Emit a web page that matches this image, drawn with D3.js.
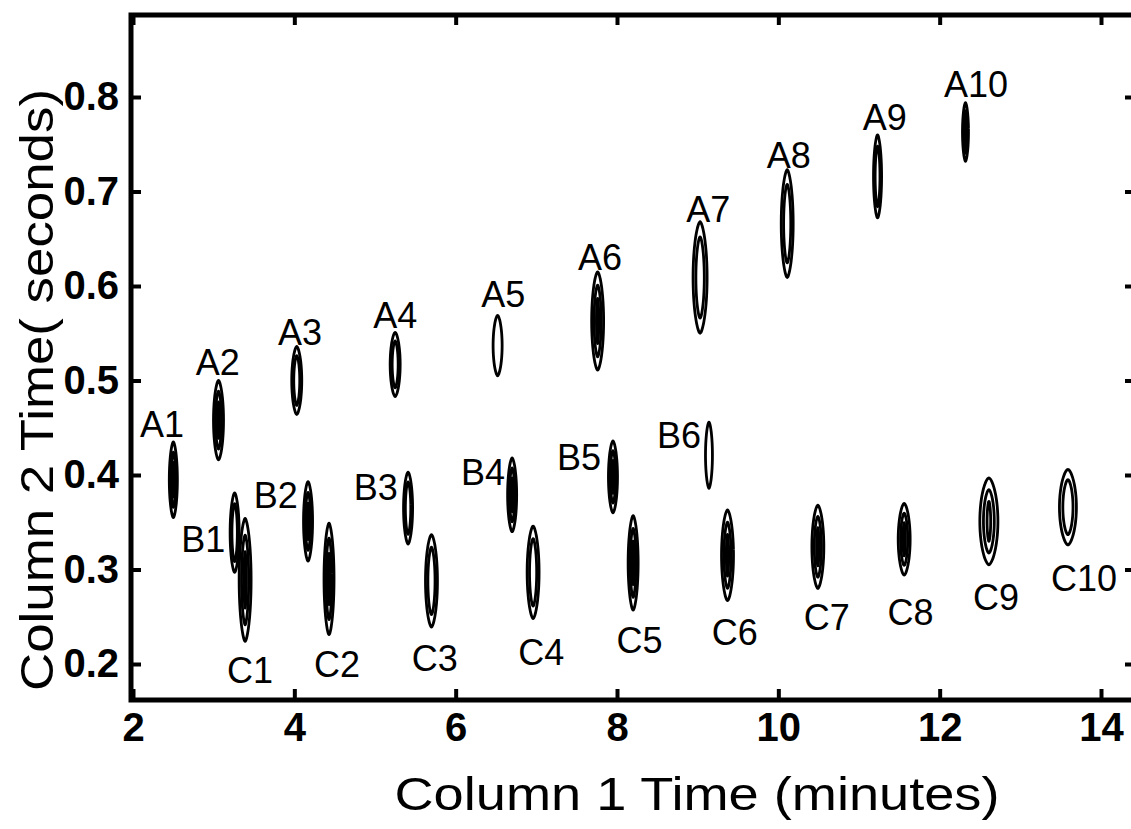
<!DOCTYPE html>
<html>
<head>
<meta charset="utf-8">
<script src="https://cdn.jsdelivr.net/npm/d3@7"></script>
<style>
  html, body { margin: 0; padding: 0; background: #fff; }
  svg { display: block; }
  text { font-family: "Liberation Sans", Arial, Helvetica, sans-serif; fill: #000; }
</style>
</head>
<body>
<svg id="chart" width="1131" height="829"></svg>
<script>
// ---- data ----
const peakNames = ["A1","A2","A3","A4","A5","A6","A7","A8","A9","A10",
                   "B1","B2","B3","B4","B5","B6",
                   "C1","C2","C3","C4","C5","C6","C7","C8","C9","C10"];
// column 1 retention time (minutes)
const peakX = [2.50,3.06,4.03,5.25,6.52,7.76,9.03,10.11,11.23,12.32,
               3.26,4.17,5.41,6.70,7.95,9.14,
               3.39,4.43,5.70,6.96,8.20,9.37,10.49,11.56,12.61,13.59];
// column 2 retention time (seconds)
const peakY = [0.395,0.458,0.500,0.517,0.537,0.563,0.609,0.666,0.716,0.763,
               0.339,0.351,0.365,0.379,0.398,0.421,
               0.289,0.290,0.288,0.297,0.307,0.315,0.324,0.332,0.351,0.366];
// half extent of outer contour along column 2 (seconds)
const peakHalfHeight = [0.040,0.042,0.036,0.034,0.032,0.052,0.059,0.057,0.044,0.031,
                        0.042,0.042,0.038,0.039,0.038,0.035,
                        0.065,0.059,0.049,0.049,0.050,0.048,0.044,0.038,0.046,0.040];
// half extent of outer contour along column 1 (minutes)
const peakHalfWidth = [0.050,0.062,0.062,0.062,0.056,0.074,0.087,0.074,0.050,0.037,
                       0.056,0.056,0.056,0.056,0.056,0.043,
                       0.074,0.062,0.074,0.074,0.062,0.074,0.074,0.074,0.112,0.105];
// number of contour levels drawn
const peakLevels = [3,3,2,2,1,3,2,2,2,3,
                    2,3,2,3,3,1,
                    3,3,2,2,3,3,3,3,3,2];
// label anchor (centre x in minutes, baseline y in seconds)
const labelX = [2.36,3.05,4.07,5.25,6.59,7.79,9.13,10.13,11.32,12.45,
                2.87,3.77,5.01,6.34,7.53,8.77,
                3.45,4.53,5.74,7.06,8.28,9.46,10.60,11.64,12.70,13.79];
const labelY = [0.440,0.506,0.538,0.556,0.578,0.617,0.668,0.725,0.765,0.800,
                0.319,0.365,0.374,0.389,0.405,0.429,
                0.180,0.186,0.193,0.199,0.212,0.220,0.236,0.241,0.257,0.277];
const xTicks = [2,4,6,8,10,12,14];
const yTicks = [0.2,0.3,0.4,0.5,0.6,0.7,0.8];
const xTitle = "Column 1 Time (minutes)";
const yTitle = "Column 2 Time( seconds)";

// ---- scales ----
const x = d3.scaleLinear().domain([2, 14]).range([133, 1101]);
const y = d3.scaleLinear().domain([0.2, 0.8]).range([664, 97]);
const frameLeft = 131, frameRight = 1135, frameTop = 15, frameBottom = 700;

const svg = d3.select("#chart");

// ---- peaks (contours) ----
const line = d3.line().curve(d3.curveCardinalClosed.tension(0.3));
const peaks = peakNames.map((n, i) => ({
  name: n, cx: peakX[i], cy: peakY[i], hh: peakHalfHeight[i], hw: peakHalfWidth[i],
  levels: peakLevels[i], lx: labelX[i], ly: labelY[i]
}));

const gPeaks = svg.append("g");
peaks.forEach(p => {
  for (let k = 0; k < p.levels; k++) {
    const fy = 1 - k * 0.27;
    const fx = 1 - k * 0.4;
    const pts = d3.range(48).map(j => {
      const t = j / 48 * 2 * Math.PI;
      const c = Math.cos(t), s = Math.sin(t);
      const cx = Math.sign(c) * Math.pow(Math.abs(c), 1.25);
      return [x(p.cx + p.hw * fx * cx), y(p.cy + p.hh * fy * s)];
    });
    gPeaks.append("path")
      .attr("d", line(pts))
      .attr("fill", "none")
      .attr("stroke", "#000")
      .attr("stroke-width", 2.8);
  }
});

// ---- peak labels ----
svg.append("g").selectAll("text").data(peaks).join("text")
  .attr("x", d => x(d.lx))
  .attr("y", d => y(d.ly))
  .attr("text-anchor", "middle")
  .attr("font-size", 36)
  .text(d => d.name);

// ---- axes ----
const bottomAxis = d3.axisBottom(x).tickValues(xTicks).tickSize(-11).tickPadding(13)
  .tickFormat(d3.format("d"));
const gB = svg.append("g").attr("transform", `translate(0,${frameBottom})`).call(bottomAxis);

const leftAxis = d3.axisLeft(y).tickValues(yTicks).tickSize(-10).tickPadding(12)
  .tickFormat(d3.format(".1f"));
const gL = svg.append("g").attr("transform", `translate(${frameLeft},0)`).call(leftAxis);

const topAxis = d3.axisTop(x).tickValues(xTicks).tickSize(-10).tickFormat("");
const gT = svg.append("g").attr("transform", `translate(0,${frameTop})`).call(topAxis);

const rightAxis = d3.axisRight(y).tickValues(yTicks).tickSize(-10).tickFormat("");
const gR = svg.append("g").attr("transform", `translate(${frameRight},0)`).call(rightAxis);

[gB, gL, gT, gR].forEach(g => {
  g.select(".domain").remove();
  g.selectAll(".tick line").attr("stroke", "#000").attr("stroke-width", 4);
  g.selectAll(".tick text")
    .attr("font-size", 40).attr("font-weight", "bold")
    .attr("font-family", "'Liberation Sans', Arial, sans-serif").attr("fill", "#000");
});

// frame
svg.append("path")
  .attr("d", `M${frameLeft},${frameTop}H${frameRight}V${frameBottom}H${frameLeft}Z`)
  .attr("fill", "none").attr("stroke", "#000").attr("stroke-width", 5);

// ---- titles ----
svg.append("text")
  .attr("x", 697).attr("y", 810)
  .attr("text-anchor", "middle")
  .attr("font-size", 46)
  .attr("textLength", 605).attr("lengthAdjust", "spacingAndGlyphs")
  .text(xTitle);

svg.append("text")
  .attr("transform", "translate(53,390) rotate(-90)")
  .attr("text-anchor", "middle")
  .attr("font-size", 46)
  .attr("textLength", 602).attr("lengthAdjust", "spacingAndGlyphs")
  .text(yTitle);
</script>
</body>
</html>
